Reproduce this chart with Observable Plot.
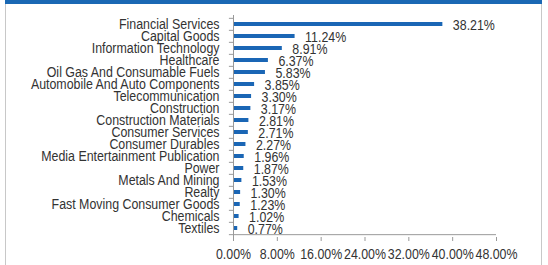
<!DOCTYPE html>
<html>
<head>
<meta charset="utf-8">
<script src="https://cdn.jsdelivr.net/npm/d3@7"></script>
<script src="https://cdn.jsdelivr.net/npm/@observablehq/plot@0.6"></script>
<style>
  html, body { margin: 0; padding: 0; background: #fff; }
  #wrap { position: relative; width: 548px; height: 265px; overflow: hidden; }
  #topbar { position: absolute; left: 5px; top: 0; width: 537px; height: 4px; background: #1a68b4; }
  #lb { position: absolute; left: 5px; top: 0; width: 1px; height: 265px; background: #c8c8c8; }
  #rb { position: absolute; left: 541px; top: 0; width: 1px; height: 265px; background: #c8c8c8; }
  #chart { position: absolute; left: 0; top: 0; }
</style>
</head>
<body>
<div id="wrap">
  <div id="chart"></div>
  <div id="lb"></div>
  <div id="rb"></div>
  <div id="topbar"></div>
</div>
<script>
const categories = [
  "Financial Services", "Capital Goods", "Information Technology", "Healthcare",
  "Oil Gas And Consumable Fuels", "Automobile And Auto Components", "Telecommunication",
  "Construction", "Construction Materials", "Consumer Services", "Consumer Durables",
  "Media Entertainment Publication", "Power", "Metals And Mining", "Realty",
  "Fast Moving Consumer Goods", "Chemicals", "Textiles"
];
const values = [38.21, 11.24, 8.91, 6.37, 5.83, 3.85, 3.30, 3.17, 2.81, 2.71, 2.27, 1.96, 1.87, 1.53, 1.30, 1.23, 1.02, 0.77];
const xTicks = [0, 8, 16, 24, 32, 40, 48];

const data = categories.map((c, i) => ({category: c, value: values[i]}));
const fmt = d => d.toFixed(2) + "%";
const last = categories[categories.length - 1];
const half = (265 - 28 - 15) / categories.length / 2;
const axisColor = "#999";
const font = "'Liberation Sans Narrow', 'Liberation Sans', Arial, sans-serif";
const fs = 15.5;

const chart = Plot.plot({
  width: 548,
  height: 265,
  marginLeft: 233,
  marginRight: 52,
  marginTop: 15,
  marginBottom: 28,
  style: {fontFamily: font, fontSize: fs + "px", color: "#333", background: "transparent"},
  x: {domain: [0, 48], label: null},
  y: {domain: categories, padding: 0, label: null},
  marks: [
    Plot.barX(data, {x: "value", y: "category", fill: "#1a66b5", insetTop: 4, insetBottom: 4}),
    Plot.ruleX([0], {stroke: axisColor}),
    Plot.ruleY(categories, {y: d => d, x1: -0.75, x2: 0, dy: -half, stroke: axisColor}),
    Plot.ruleY([last], {y: d => d, x1: -0.75, x2: 48, dy: half, stroke: axisColor}),
    Plot.axisX({ticks: xTicks, tickFormat: fmt, tickSize: 4, tickPadding: 6, stroke: axisColor, fill: "#333", fontSize: fs, label: null}),
    Plot.axisY({tickSize: 0, tickPadding: 14, fill: "#333", fontSize: fs, label: null}),
    Plot.text(data, {x: "value", y: "category", text: d => fmt(d.value), dx: 10, dy: 1, textAnchor: "start", fill: "#333", fontSize: fs})
  ]
});

// Emulate a narrow (condensed) face: squeeze each text horizontally about its anchor
const squeeze = 0.8;
d3.select(chart).selectAll("text").each(function() {
  const x = +(this.getAttribute("x") || 0);
  const t = this.getAttribute("transform") || "";
  this.setAttribute("transform", `${t} translate(${x},0) scale(${squeeze},1) translate(${-x},0)`);
});
document.getElementById("chart").appendChild(chart);
</script>
</body>
</html>
